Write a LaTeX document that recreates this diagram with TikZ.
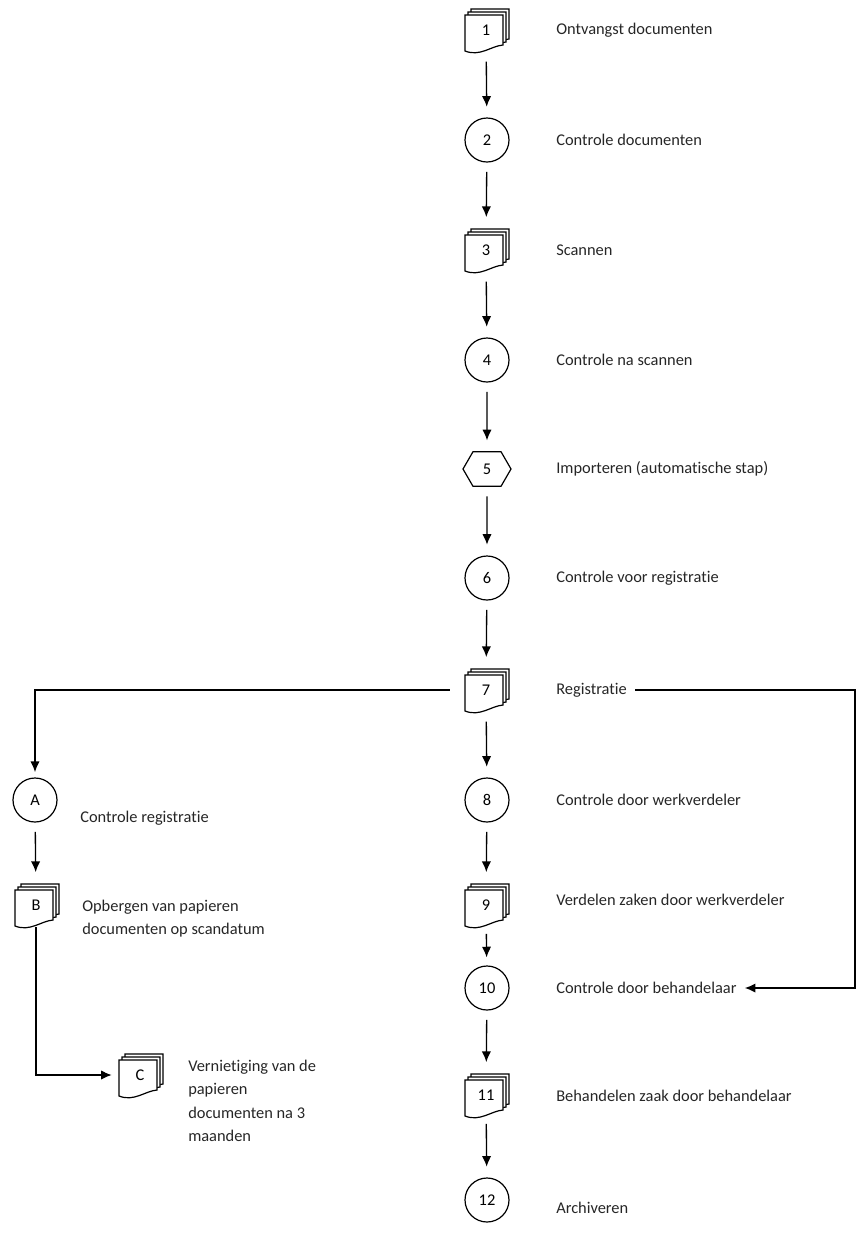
\documentclass[tikz,border=0pt]{standalone}
\usepackage{fontspec}
\setmainfont{Carlito}[Ligatures=NoCommon]
\usetikzlibrary{shapes.symbols,positioning,arrows.meta}

\tikzset{
  cirkel/.style={circle,draw,line width=0.9pt,minimum size=33pt,inner sep=0pt},
  zeshoek/.style={signal,signal to=east and west,signal pointer angle=120,draw,line width=0.9pt,
    minimum width=36pt,minimum height=26pt,inner sep=0pt},
  stapelkern/.style={minimum width=30pt,minimum height=33pt,inner sep=0pt},
  label/.style={anchor=west,inner sep=0pt,text=black!85,align=left},
  pijl/.style={->,line width=1pt,shorten <=7pt,shorten >=8pt},
}

\newcommand{\stapel}[3]{%
  \begin{scope}[shift={(#2)},line width=0.9pt]
    \foreach \d in {6,3}{
      \filldraw[fill=white,shift={(\d,-\d)}] (-21,-15) -- (17,-15) -- (17,15)
        .. controls (5,16) and (-6,27) .. (-21,21) -- cycle;
    }
    \filldraw[fill=white] (-21,-15) -- (17,-15) -- (17,15)
      .. controls (5,16) and (-6,27) .. (-21,21) -- cycle;
  \end{scope}
  \node[stapelkern] (#1) at (#2) {#3};
}

\begin{document}
\begin{tikzpicture}[x=0.75pt,y=-0.75pt,>={Latex[length=8pt,width=7pt]},font=\fontsize{12.3}{17.4}\selectfont]
\useasboundingbox (0,0) rectangle (857,1254);

\stapel{s1}{486,30}{1}
\node[cirkel] (s2) at (487,140) {2};
\stapel{s3}{486,250}{3}
\node[cirkel] (s4) at (487,360) {4};
\node[zeshoek] (s5) at (487,469) {5};
\node[cirkel] (s6) at (487,578) {6};
\stapel{s7}{486,690}{7}
\node[cirkel] (s8) at (487,800) {8};
\stapel{s9}{486,905}{9}
\node[cirkel] (s10) at (487,988) {10};
\stapel{s11}{486,1095}{11}
\node[cirkel] (s12) at (487,1200) {12};

\node[cirkel] (sA) at (35,800) {A};
\stapel{sB}{36,905}{B}
\stapel{sC}{140,1075}{C}

\node[label] (l1) at (556,30) {Ontvangst documenten};
\node[label] (l2) at (556,140) {Controle documenten};
\node[label] (l3) at (556,250) {Scannen};
\node[label] (l4) at (556,360) {Controle na scannen};
\node[label] (l5) at (556,469) {Importeren (automatische stap)};
\node[label] (l6) at (556,578) {Controle voor registratie};
\node[label] (l7) at (556,690) {Registratie};
\node[label] (l8) at (556,800) {Controle door werkverdeler};
\node[label] (l9) at (556,900) {Verdelen zaken door werkverdeler};
\node[label] (l10) at (556,988) {Controle door behandelaar};
\node[label] (l11) at (556,1096) {Behandelen zaak door behandelaar};
\node[label] (l12) at (556,1208) {Archiveren};

\node[label] (lA) at (80,818) {Controle registratie};
\node[label,anchor=north west] (lB) at (82,900) {Opbergen van papieren\\documenten op scandatum};
\node[label,anchor=north west] (lC) at (188,1060) {Vernietiging van de\\papieren\\documenten na 3\\maanden};

\coordinate (rechts) at (855,0);

\draw[pijl] (s1) -- (s2);
\draw[pijl] (s2) -- (s3);
\draw[pijl] (s3) -- (s4);
\draw[pijl] (s4) -- (s5);
\draw[pijl] (s5) -- (s6);
\draw[pijl] (s6) -- (s7);
\draw[pijl] (s7) -- (s8);
\draw[pijl] (s8) -- (s9);
\draw[pijl,shorten <=5pt,shorten >=6pt] (s9) -- (s10);
\draw[pijl] (s10) -- (s11);
\draw[pijl,shorten <=5pt] (s11) -- (s12);
\draw[pijl] (sA) -- (sB);

\draw[pijl,shorten <=12pt,shorten >=4pt] (s7.west) -- (s7.west -| sA) -- (sA.north);
\draw[pijl,shorten <=6pt,shorten >=6pt] (l7.east) -- (l7.east -| rechts) -- (l10.east -| rechts) -- (l10.east);
\draw[pijl,shorten <=0pt,shorten >=6pt] (sB.south) -- (sB.south |- sC.west) -- (sC.west);
\end{tikzpicture}
\end{document}
